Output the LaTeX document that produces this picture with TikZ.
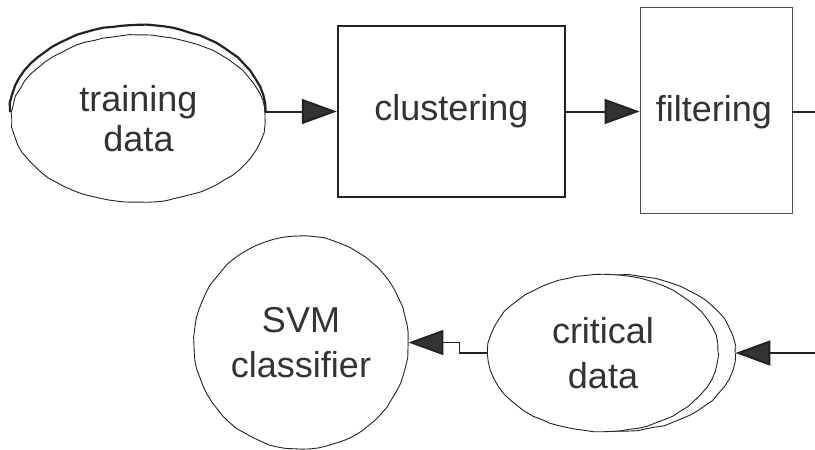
\documentclass[tikz,border=0pt]{standalone}
\usepackage{fontspec}
\setmainfont{Liberation Sans}
\usetikzlibrary{arrows.meta,shapes.geometric,decorations.pathmorphing}
\definecolor{ink}{HTML}{333333}
\definecolor{edge}{HTML}{222222}
\begin{document}
\begin{tikzpicture}[x=1pt,y=-1pt,
  txt/.style={text=ink,align=center,font=\fontsize{36}{40}\selectfont},
  txtb/.style={text=ink,align=center,font=\fontsize{36}{45}\selectfont},
  wobble/.style={decorate,decoration={random steps,segment length=9pt,amplitude=0.5pt}},
  blob/.style={ellipse,draw=edge,line width=0.9pt,fill=white,inner sep=0pt,wobble},
  thickbox/.style={rectangle,draw=edge,line width=2.4pt,inner sep=0pt},
  thinbox/.style={rectangle,draw=edge!80,line width=0.9pt,inner sep=0pt},
  arr/.style={draw=edge,line width=2pt,-{Triangle[length=35pt,width=25pt,fill=ink]}},
  conn/.style={draw=edge,line width=2pt}]
\pgfmathsetseed{7}
\useasboundingbox (0,0) rectangle (815,450);
% top row
\node[blob,txt,minimum width=253pt,minimum height=167pt] (td) at (138.5,118.5) {training\\data};
\draw[edge,line width=2.2pt,wobble] (10,112) arc[start angle=180,end angle=0,x radius=127.5pt,y radius=87pt];
\node[thickbox,txt,minimum width=227pt,minimum height=171pt] (cl) at (451.5,111.5) {clustering};
\node[thinbox,minimum width=152pt,minimum height=206pt] (fi) at (716,110) {};
\node[txt] (fit) at (714,112) {filtering};
\coordinate (outR) at (815,112);
\draw[arr] (td.east |- cl.west) -- (cl.west);
\draw[arr] (cl.east) -- (cl.east -| fi.west);
\draw[conn] (fi.east |- outR) -- (outR);
% bottom row
\node[blob,minimum width=230pt,minimum height=156pt] (cdb) at (620,353) {};
\node[blob,txtb,minimum width=230pt,minimum height=157pt] (cd) at (603,353) {critical\\data};
\node[blob,txtb,minimum width=214pt,minimum height=213pt] (svm) at (301,342.5) {SVM\\classifier};
\coordinate (inR) at (815,353);
\draw[arr] (inR) -- (cdb.east);
\draw[arr,line width=1.8pt] (cd.west) -- ++(-28,0) |- (svm.east);
\end{tikzpicture}
\end{document}
